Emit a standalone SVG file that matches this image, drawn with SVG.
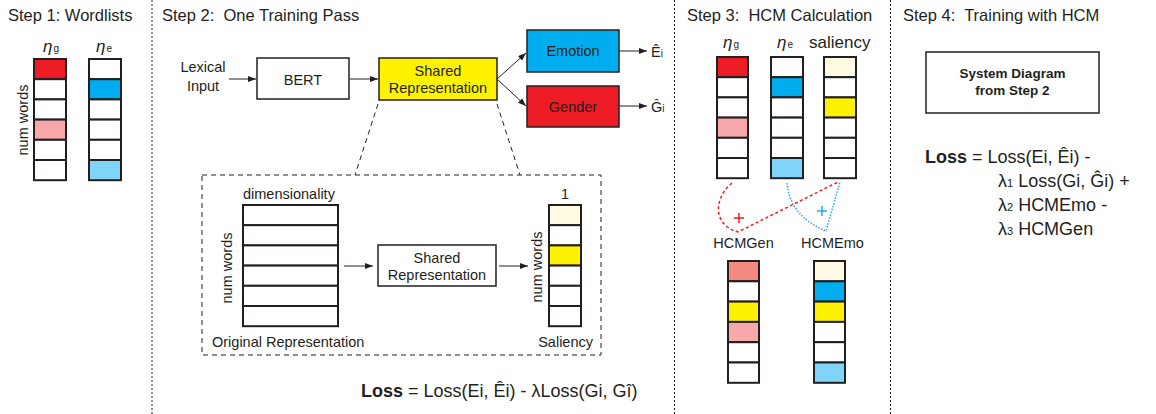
<svg xmlns="http://www.w3.org/2000/svg" width="1156" height="414" viewBox="0 0 1156 414">
<style>
text{font-family:"Liberation Sans",Arial,sans-serif;fill:#231F20}
.title{font-size:16.5px}
.lbl{font-size:14.5px}
.mid{text-anchor:middle}
.b{font-weight:bold}
.cell{stroke:#231F20;stroke-width:2;fill:#fff}
.box{stroke:#231F20;stroke-width:1.5;fill:#fff}
.div{stroke:#231F20;stroke-width:1;stroke-dasharray:2 2;fill:none}
.arr{stroke:#231F20;stroke-width:1;fill:none;marker-end:url(#ah)}
.dash{stroke:#231F20;stroke-width:1;stroke-dasharray:5 4;fill:none}
.red{fill:#ED1C24}.pink{fill:#F7A8AA}.blue{fill:#00AEEF}.lblue{fill:#7FD4F7}.yel{fill:#FFF200}.cream{fill:#FFFBE3}.salmon{fill:#F58A83}
.sub{font-size:10px}
.eta{font-size:17px;font-style:italic}
</style>
<defs>
<marker id="ah" markerWidth="8" markerHeight="6" refX="8" refY="3" orient="auto" markerUnits="userSpaceOnUse">
<path d="M0,0 L8,3 L0,6 Z" fill="#231F20"/>
</marker>
</defs>

<g id="dividers">
<line class="div" x1="152" y1="0" x2="152" y2="414"/>
<line class="div" x1="674.5" y1="0" x2="674.5" y2="414"/>
<line class="div" x1="890.5" y1="0" x2="890.5" y2="414"/>
</g>

<!-- Step 1 -->
<g id="step1">
<text class="title" x="8" y="21">Step 1: Wordlists</text>
<text x="43" y="52"><tspan class="eta">η</tspan><tspan class="sub" dx="1">g</tspan></text>
<text x="96" y="52"><tspan class="eta">η</tspan><tspan class="sub" dx="1">e</tspan></text>
<text class="lbl mid" transform="translate(28,120) rotate(-90)">num words</text>
<g id="s1-eta-g">
<rect class="cell red" x="34" y="59" width="32" height="20.2"/>
<rect class="cell" x="34" y="79.2" width="32" height="20.2"/>
<rect class="cell" x="34" y="99.4" width="32" height="20.2"/>
<rect class="cell pink" x="34" y="119.6" width="32" height="20.2"/>
<rect class="cell" x="34" y="139.8" width="32" height="20.2"/>
<rect class="cell" x="34" y="160" width="32" height="20.2"/>
</g>
<g id="s1-eta-e">
<rect class="cell" x="89" y="59" width="32" height="20.2"/>
<rect class="cell blue" x="89" y="79.2" width="32" height="20.2"/>
<rect class="cell" x="89" y="99.4" width="32" height="20.2"/>
<rect class="cell" x="89" y="119.6" width="32" height="20.2"/>
<rect class="cell" x="89" y="139.8" width="32" height="20.2"/>
<rect class="cell lblue" x="89" y="160" width="32" height="20.2"/>
</g>
</g>

<!-- Step 2 -->
<g id="step2">
<text class="title" x="162" y="21">Step 2:&#160; One Training Pass</text>
<g id="lexical">
<text class="lbl mid" x="203" y="72">Lexical</text>
<text class="lbl mid" x="203" y="91">Input</text>
</g>
<g id="bert">
<rect class="box" x="257" y="58" width="92" height="41"/>
<text class="lbl mid" x="303" y="85">BERT</text>
</g>
<g id="shared">
<rect class="box yel" x="379" y="58" width="118" height="42"/>
<text class="lbl mid" x="438" y="76">Shared</text>
<text class="lbl mid" x="438" y="93">Representation</text>
</g>
<g id="emotion">
<rect class="box blue" x="527" y="30" width="92" height="42"/>
<text class="lbl mid" x="573" y="56">Emotion</text>
</g>
<g id="gender">
<rect class="box red" x="527" y="86" width="92" height="41"/>
<text class="lbl mid" x="573" y="112">Gender</text>
</g>
<g id="ehat"><text class="lbl" x="651" y="57">Ê<tspan class="sub">i</tspan></text></g>
<g id="ghat"><text class="lbl" x="651" y="112">Ĝ<tspan class="sub">i</tspan></text></g>

<g id="zoombox">
<rect class="dash" x="202" y="175" width="399" height="180"/>
</g>
<g id="orig-rep">
<text class="lbl" x="243" y="199">dimensionality</text>
<text class="lbl mid" transform="translate(232,268) rotate(-90)">num words</text>
<rect class="cell" x="243" y="205" width="95" height="20.2"/>
<rect class="cell" x="243" y="225.2" width="95" height="20.2"/>
<rect class="cell" x="243" y="245.4" width="95" height="20.2"/>
<rect class="cell" x="243" y="265.6" width="95" height="20.2"/>
<rect class="cell" x="243" y="285.8" width="95" height="20.2"/>
<rect class="cell" x="243" y="306" width="95" height="20.2"/>
<text class="lbl" x="212" y="347">Original Representation</text>
</g>
<g id="inner-shared">
<rect class="box" x="378" y="245" width="118" height="41"/>
<text class="lbl mid" x="437" y="263">Shared</text>
<text class="lbl mid" x="437" y="280">Representation</text>
</g>
<g id="saliency-col">
<text class="lbl mid" x="565" y="199">1</text>
<text class="lbl mid" transform="translate(542,267) rotate(-90)">num words</text>
<rect class="cell cream" x="549" y="205" width="32" height="20.2"/>
<rect class="cell" x="549" y="225.2" width="32" height="20.2"/>
<rect class="cell yel" x="549" y="245.4" width="32" height="20.2"/>
<rect class="cell" x="549" y="265.6" width="32" height="20.2"/>
<rect class="cell" x="549" y="285.8" width="32" height="20.2"/>
<rect class="cell" x="549" y="306" width="32" height="20.2"/>
<text class="lbl" x="593" y="347" text-anchor="end">Saliency</text>
</g>
<g id="loss2">
<text x="361" y="397" style="font-size:18px"><tspan class="b">Loss</tspan> = Loss(Ei, Êi) - λLoss(Gi, Gî)</text>
</g>
</g>

<g id="connectors">
<line class="arr" x1="229" y1="79" x2="256" y2="79"/>
<line class="arr" x1="350" y1="79" x2="378" y2="79"/>
<line class="arr" x1="497" y1="79" x2="526" y2="53"/>
<line class="arr" x1="497" y1="79" x2="526" y2="106"/>
<line class="arr" x1="619" y1="51" x2="647" y2="51"/>
<line class="arr" x1="619" y1="106" x2="647" y2="106"/>
<line class="dash" x1="378" y1="104" x2="355" y2="175"/>
<line class="dash" x1="497" y1="104" x2="520" y2="175"/>
<line class="arr" x1="344" y1="266" x2="373" y2="266"/>
<line class="arr" x1="499" y1="266" x2="528" y2="266"/>
<path d="M732,183 C716,195 710,224 738,232 L838,182" fill="none" stroke="#ED1C24" stroke-width="1.5" stroke-dasharray="3 2.5"/>
<path d="M787,183 C789,204 800,220 826,231 L840,182" fill="none" stroke="#27AAE1" stroke-width="1.5" stroke-dasharray="1.5 1.5"/>
</g>

<!-- Step 3 -->
<g id="step3">
<text class="title" x="687" y="21">Step 3:&#160; HCM Calculation</text>
<text x="723" y="48"><tspan class="eta">η</tspan><tspan class="sub" dx="1">g</tspan></text>
<text x="777" y="48"><tspan class="eta">η</tspan><tspan class="sub" dx="1">e</tspan></text>
<text x="809" y="48" style="font-size:17px">saliency</text>
<g id="s3-eta-g">
<rect class="cell red" x="717" y="57" width="31" height="20.2"/>
<rect class="cell" x="717" y="77.2" width="31" height="20.2"/>
<rect class="cell" x="717" y="97.4" width="31" height="20.2"/>
<rect class="cell pink" x="717" y="117.6" width="31" height="20.2"/>
<rect class="cell" x="717" y="137.8" width="31" height="20.2"/>
<rect class="cell" x="717" y="158" width="31" height="20.2"/>
</g>
<g id="s3-eta-e">
<rect class="cell" x="771" y="57" width="32" height="20.2"/>
<rect class="cell blue" x="771" y="77.2" width="32" height="20.2"/>
<rect class="cell" x="771" y="97.4" width="32" height="20.2"/>
<rect class="cell" x="771" y="117.6" width="32" height="20.2"/>
<rect class="cell" x="771" y="137.8" width="32" height="20.2"/>
<rect class="cell lblue" x="771" y="158" width="32" height="20.2"/>
</g>
<g id="s3-saliency">
<rect class="cell cream" x="824" y="57" width="32" height="20.2"/>
<rect class="cell" x="824" y="77.2" width="32" height="20.2"/>
<rect class="cell yel" x="824" y="97.4" width="32" height="20.2"/>
<rect class="cell" x="824" y="117.6" width="32" height="20.2"/>
<rect class="cell" x="824" y="137.8" width="32" height="20.2"/>
<rect class="cell" x="824" y="158" width="32" height="20.2"/>
</g>
<g id="plus-red"><path d="M734,218 H744 M739,213 V223" stroke="#ED1C24" stroke-width="1.5"/></g>
<g id="plus-cyan"><path d="M817,211 H827 M822,206 V216" stroke="#27AAE1" stroke-width="1.5"/></g>
<g id="hcmgen">
<text class="lbl mid" x="743.5" y="248">HCMGen</text>
<rect class="cell salmon" x="728" y="261" width="31" height="20.3"/>
<rect class="cell" x="728" y="281.3" width="31" height="20.3"/>
<rect class="cell yel" x="728" y="301.6" width="31" height="20.3"/>
<rect class="cell pink" x="728" y="321.9" width="31" height="20.3"/>
<rect class="cell" x="728" y="342.2" width="31" height="20.3"/>
<rect class="cell" x="728" y="362.5" width="31" height="20.3"/>
</g>
<g id="hcmemo">
<text class="lbl mid" x="832.5" y="248">HCMEmo</text>
<rect class="cell cream" x="814" y="261" width="31" height="20.3"/>
<rect class="cell blue" x="814" y="281.3" width="31" height="20.3"/>
<rect class="cell yel" x="814" y="301.6" width="31" height="20.3"/>
<rect class="cell" x="814" y="321.9" width="31" height="20.3"/>
<rect class="cell" x="814" y="342.2" width="31" height="20.3"/>
<rect class="cell lblue" x="814" y="362.5" width="31" height="20.3"/>
</g>
</g>

<!-- Step 4 -->
<g id="step4">
<text class="title" x="903" y="21">Step 4:&#160; Training with HCM</text>
<g id="sysdiag">
<rect class="box" x="926" y="52" width="173" height="61"/>
<text class="mid b" x="1012.5" y="78" style="font-size:13.5px">System Diagram</text>
<text class="mid b" x="1012.5" y="95" style="font-size:13.5px">from Step 2</text>
</g>
<g id="loss4" style="font-size:18px">
<text x="925" y="163"><tspan class="b">Loss</tspan> = Loss(Ei, Êi) -</text>
<text x="998" y="187">λ<tspan style="font-size:11px">1</tspan> Loss(Gi, Ĝi) +</text>
<text x="998" y="211">λ<tspan style="font-size:11px">2</tspan> HCMEmo -</text>
<text x="998" y="235">λ<tspan style="font-size:11px">3</tspan> HCMGen</text>
</g>
</g>
</svg>
